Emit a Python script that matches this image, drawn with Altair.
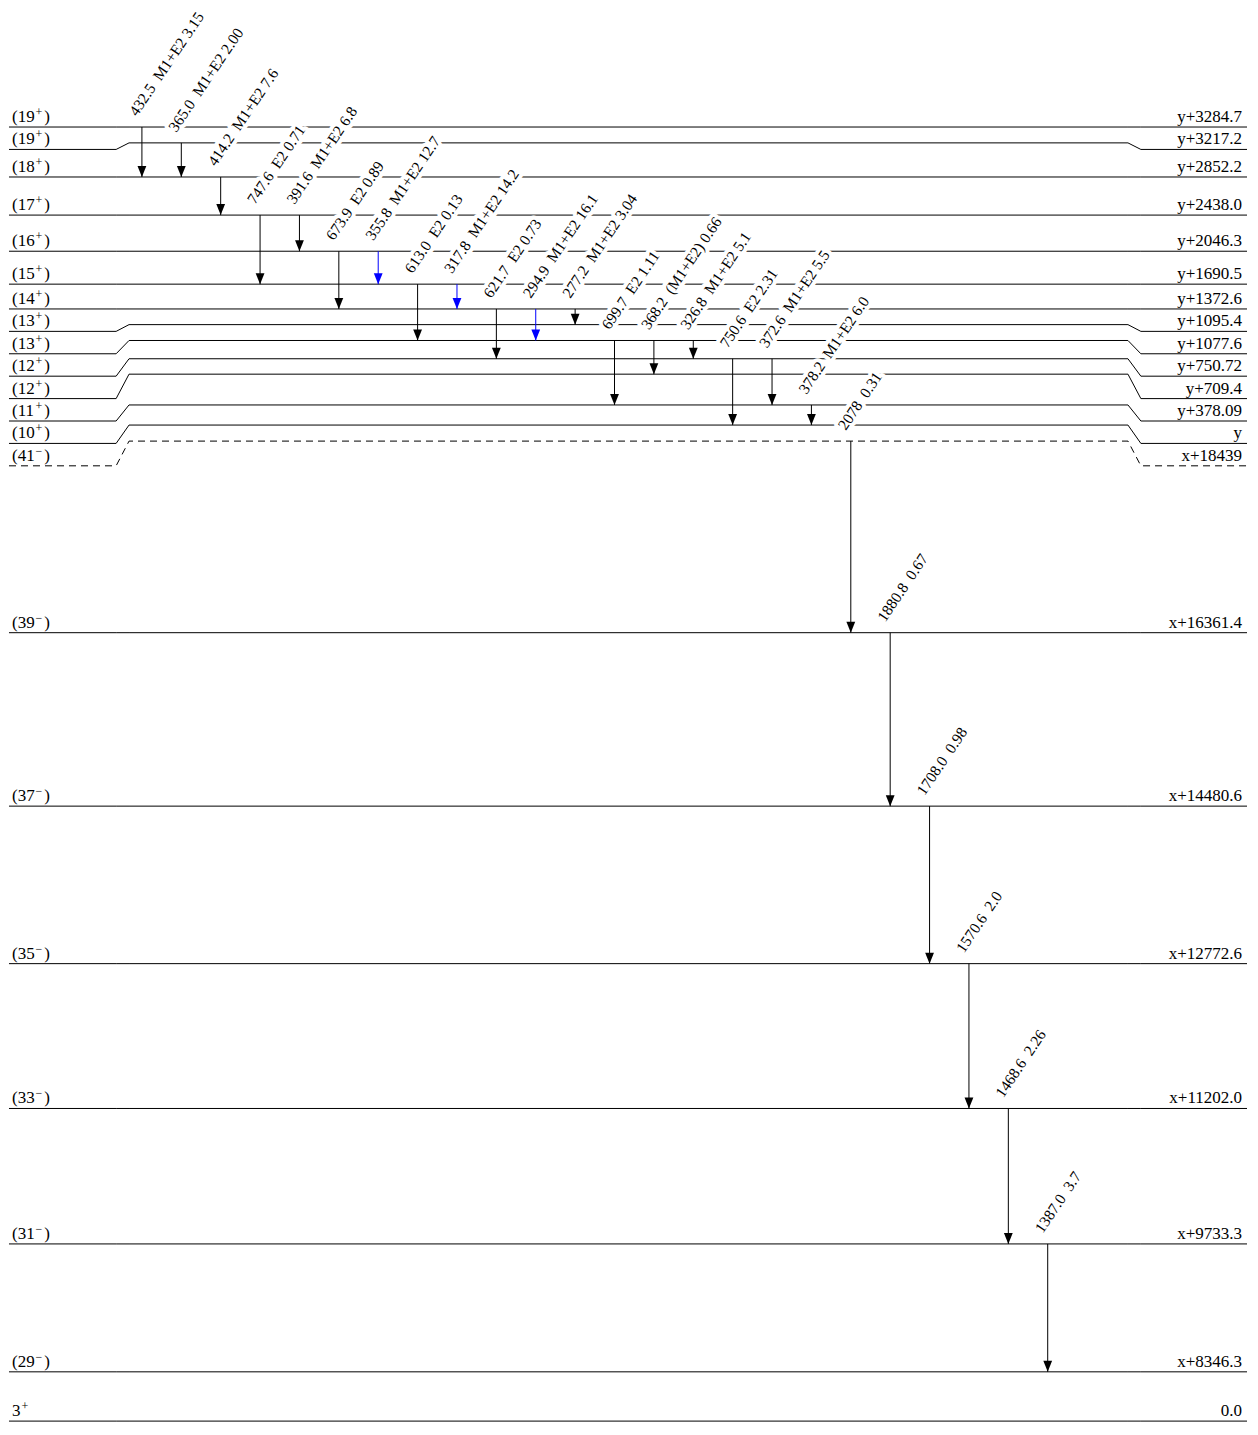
import altair as alt
import pandas as pd

# ---------------- data ----------------
level_spin = ["19", "19", "18", "17", "16", "15", "14", "13", "13", "12", "12",
              "11", "10", "41", "39", "37", "35", "33", "31", "29", "3"]
level_parity = ["+"] * 13 + ["−"] * 7 + ["+"]
level_tentative = [True] * 20 + [False]
level_energy = ["y+3284.7", "y+3217.2", "y+2852.2", "y+2438.0", "y+2046.3",
                "y+1690.5", "y+1372.6", "y+1095.4", "y+1077.6", "y+750.72",
                "y+709.4", "y+378.09", "y", "x+18439", "x+16361.4", "x+14480.6",
                "x+12772.6", "x+11202.0", "x+9733.3", "x+8346.3", "0.0"]
# height at which each level is drawn in the scheme (keV scale of the lower band)
level_drawn = [21845, 21673, 21303, 20890, 20498, 20141, 19872, 19702, 19530,
               19332, 19165, 18831, 18613, 18439, 16361.4, 14480.6, 12772.6,
               11202.0, 9733.3, 8346.3, 7812]
level_dashed = [False] * 13 + [True] + [False] * 7

gamma_energy = ["432.5", "365.0", "414.2", "747.6", "391.6", "673.9", "355.8",
                "613.0", "317.8", "621.7", "294.9", "277.2", "699.7", "368.2",
                "326.8", "750.6", "372.6", "378.2", "2078", "1880.8", "1708.0",
                "1570.6", "1468.6", "1387.0"]
gamma_mult = ["M1+E2", "M1+E2", "M1+E2", "E2", "M1+E2", "E2", "M1+E2", "E2",
              "M1+E2", "E2", "M1+E2", "M1+E2", "E2", "(M1+E2)", "M1+E2", "E2",
              "M1+E2", "M1+E2", "", "", "", "", "", ""]
gamma_intensity = ["3.15", "2.00", "7.6", "0.71", "6.8", "0.89", "12.7", "0.13",
                   "14.2", "0.73", "16.1", "3.04", "1.11", "0.66", "5.1", "2.31",
                   "5.5", "6.0", "0.31", "0.67", "0.98", "2.0", "2.26", "3.7"]
gamma_from = [0, 1, 2, 3, 3, 4, 4, 5, 5, 6, 6, 6, 8, 8, 8, 9, 9, 11, 13, 14, 15, 16, 17, 18]
gamma_to = [2, 2, 3, 5, 4, 6, 5, 8, 6, 9, 8, 7, 11, 10, 9, 12, 11, 12, 14, 15, 16, 17, 18, 19]
gamma_blue = [False, False, False, False, False, False, True, False, True, False,
              True, False, False, False, False, False, False, False, False, False,
              False, False, False, False]

# ---------------- layout (derived) ----------------
FONT = "Liberation Serif"
LABEL_FS = 17
SUP_FS = 12
GAMMA_FS = 15.5
X_DOMAIN = [8, 1258]
Y_DOMAIN = [7791.4, 23135.6]
W, H = 1240, 1415
MIN_LABEL_GAP = 243  # keV on the drawing scale

label_drawn = []
for i, e in enumerate(level_drawn):
    if i == 0:
        label_drawn.append(e)
    else:
        label_drawn.append(min(e, label_drawn[-1] - MIN_LABEL_GAP))

line_x = [9, 117, 130, 1137, 1150, 1257]
rows = []
for i in range(len(level_drawn)):
    ys = [label_drawn[i], label_drawn[i], level_drawn[i], level_drawn[i],
          label_drawn[i], label_drawn[i]]
    for k, (xx, yy) in enumerate(zip(line_x, ys)):
        rows.append({"level": i, "seq": k, "x": xx, "y": yy, "dashed": level_dashed[i]})
lines_df = pd.DataFrame(rows)

# spin labels in three pieces: "(19", raised parity, ")"
base_rows, sup_rows = [], []
X0 = 12
for i in range(len(level_spin)):
    base = ("(" if level_tentative[i] else "") + level_spin[i]
    base_w = (0.333 * base.count("(") + 0.5 * len(level_spin[i])) * LABEL_FS
    sup_x = X0 + base_w + 1.0
    close_x = sup_x + 0.564 * SUP_FS + 2.0
    base_rows.append({"x": X0, "y": label_drawn[i], "t": base})
    sup_rows.append({"x": sup_x, "y": label_drawn[i], "t": level_parity[i]})
    if level_tentative[i]:
        base_rows.append({"x": close_x, "y": label_drawn[i], "t": ")"})
base_df = pd.DataFrame(base_rows)
sup_df = pd.DataFrame(sup_rows)

right_df = pd.DataFrame({"energy": level_energy, "y": label_drawn,
                         "x": [1252] * len(level_energy)})

NB = "\u00a0 "
g_rows = []
for i in range(len(gamma_energy)):
    rest = " ".join(p for p in [gamma_mult[i], gamma_intensity[i]] if p)
    g_rows.append({
        "x": 143 + 39.7 * i,
        "y1": level_drawn[gamma_from[i]],
        "y2": level_drawn[gamma_to[i]],
        "label": gamma_energy[i] + NB + rest,
        "color": "#0000ff" if gamma_blue[i] else "#000000",
    })
g_df = pd.DataFrame(g_rows)

xs = alt.Scale(domain=X_DOMAIN, nice=False, zero=False)
ys = alt.Scale(domain=Y_DOMAIN, nice=False, zero=False)
X = lambda f: alt.X(f, scale=xs, axis=None)
Y = lambda f: alt.Y(f, scale=ys, axis=None)

base_lines = alt.Chart(lines_df).encode(x=X("x:Q"), y=Y("y:Q"),
                                        detail="level:N", order="seq:Q")
solid = base_lines.transform_filter("!datum.dashed").mark_line(
    color="black", strokeWidth=1)
dashed = base_lines.transform_filter("datum.dashed").mark_line(
    color="black", strokeWidth=1, strokeDash=[7, 5])

gbase = alt.Chart(g_df).encode(x=X("x:Q"), y=Y("y1:Q"))
halo = gbase.mark_text(
    angle=304, align="left", baseline="alphabetic", font=FONT, fontSize=GAMMA_FS,
    xOffset=-5, yOffset=-10, color="white", stroke="white", strokeWidth=8,
    strokeJoin="round").encode(text="label:N")
gtext = gbase.mark_text(
    angle=304, align="left", baseline="alphabetic", font=FONT, fontSize=GAMMA_FS,
    xOffset=-5, yOffset=-10, color="black").encode(text="label:N")

arrows = alt.Chart(g_df).mark_rule(strokeWidth=1).encode(
    x=X("x:Q"), y=Y("y1:Q"), y2="y2:Q", color=alt.Color("color:N", scale=None))
heads = alt.Chart(g_df).mark_point(
    shape="M-0.8,-1L0.8,-1L0,1Z", size=121, filled=True, opacity=1,
    strokeWidth=0, yOffset=-5.5).encode(
    x=X("x:Q"), y=Y("y2:Q"), color=alt.Color("color:N", scale=None))

base_labels = alt.Chart(base_df).mark_text(
    align="left", baseline="alphabetic", font=FONT, fontSize=LABEL_FS, yOffset=-5,
    color="black").encode(x=X("x:Q"), y=Y("y:Q"), text="t:N")
sup_labels = alt.Chart(sup_df).mark_text(
    align="left", baseline="alphabetic", font=FONT, fontSize=SUP_FS, yOffset=-11,
    color="black").encode(x=X("x:Q"), y=Y("y:Q"), text="t:N")
right_labels = alt.Chart(right_df).mark_text(
    align="right", baseline="alphabetic", font=FONT, fontSize=LABEL_FS, yOffset=-5,
    color="black").encode(x=X("x:Q"), y=Y("y:Q"), text="energy:N")

chart = alt.layer(
    solid, dashed, halo, arrows, heads, gtext, base_labels, sup_labels, right_labels
).properties(
    width=W, height=H, padding=0,
    autosize=alt.AutoSizeParams(type="none"),
).configure_view(strokeWidth=0)

chart.save("out.html", embed_options={"renderer": "svg", "actions": False})
